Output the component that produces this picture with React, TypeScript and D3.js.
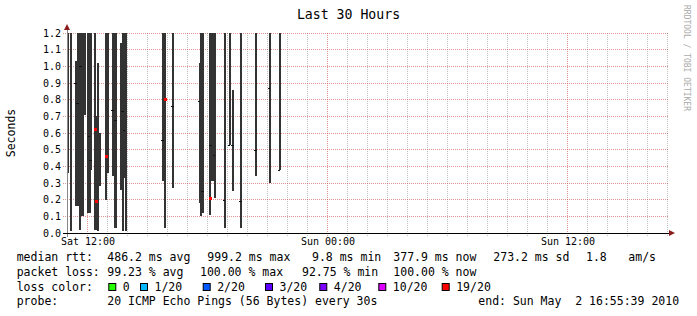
import React from "react";
import * as d3 from "d3";

// ---- data ----
const barTimes = ["11:00","11:10","11:25","11:30","11:35","11:40","11:45","11:50","12:00","12:05","12:10","12:20","12:25","12:30","12:35","12:55","13:00","13:15","13:20","13:25","13:40","13:45","13:50","13:55","15:45","15:50","16:15","17:35","17:40","17:45","18:05","18:10","18:15","18:20","18:50","19:05","19:15","19:40","20:25","21:05","21:35"];
const barHigh = [1.2,1.2,1.03,1.2,1.2,1.2,1.2,1.2,1.2,1.2,1.2,1.2,0.70,1.02,0.60,1.2,1.2,1.2,1.2,1.2,1.14,1.2,1.2,1.2,1.2,1.2,1.2,1.02,1.2,1.2,1.2,1.2,1.2,1.2,1.2,1.2,0.86,1.2,1.2,1.2,1.2];
const barLow = [0.36,0.01,0.16,0.16,0.02,0.10,0.10,0.71,0.12,0.12,0.38,0.02,0.02,0.01,0.28,0.20,0.36,0.34,0.03,0.03,0.26,0.01,0.33,0.01,0.31,0.03,0.27,0.18,0.10,0.12,0.11,0.31,0.31,0.21,0.03,0.53,0.25,0.03,0.34,0.30,0.38];
const barMedian: (number | null)[] = [null,null,0.90,0.78,null,1.0,null,null,null,0.58,0.44,0.62,0.19,null,null,0.46,null,0.74,null,0.68,null,0.73,0.62,null,0.56,0.80,0.76,0.79,null,0.25,0.21,0.53,null,0.47,0.20,0.53,0.53,0.19,0.50,0.87,0.38];
const barLoss = ["","","","","","","","","","","","19/20","19/20","","","19/20","","","","","","","","","","19/20","","","","","19/20","","","","","","","","","",""];

const yTicks = [0,0.1,0.2,0.3,0.4,0.5,0.6,0.7,0.8,0.9,1.0,1.1,1.2];
const xTickLabels = ["Sat 12:00","Sun 00:00","Sun 12:00"];

const lossLabels = ["0","1/20","2/20","3/20","4/20","10/20","19/20"];
const lossColors = ["#26ff00","#00b8ff","#0059ff","#5e00ff","#7e00ff","#dd00ff","#ff0000"];

const legendRtt = ["median rtt:","486.2 ms avg","999.2 ms max","9.8 ms min","377.9 ms now","273.2 ms sd","1.8","am/s"];
const legendLoss = ["packet loss:","99.23 % avg","100.00 % max","92.75 % min","100.00 % now"];
const legendProbe = ["probe:","20 ICMP Echo Pings (56 Bytes) every 30s","end: Sun May  2 16:55:39 2010"];

// ---- layout ----
const W = 697, H = 316;
const X0 = 67, X1 = 667, Y0 = 233, Y1 = 33;
const START = new Date(2010, 4, 1, 11, 0);
const END = new Date(2010, 4, 2, 17, 0);
const FONT = "'DejaVu Sans Mono', monospace";

const x = d3.scaleTime().domain([START, END]).range([X0, X1]);
const y = d3.scaleLinear().domain([0, 1.2]).range([Y0, Y1]);

function satTime(s: string) {
  const [h, m] = s.split(":").map(Number);
  return new Date(2010, 4, 1, h, m);
}

export default function App() {
  const hours = d3.timeHour.every(1)!.range(START, d3.timeMinute.offset(END, 1));
  const majors = d3.timeHour.every(6)!.range(START, d3.timeMinute.offset(END, 1)).filter(d => d.getHours() % 12 === 0);
  const labelDates = [new Date(2010,4,1,12), new Date(2010,4,2,0), new Date(2010,4,2,12)];

  const rttX = [16.7, 107.3, 207.3, 312, 393.3, 493.3, 586, 628.3];
  const lossX = [16.7, 107.3, 200, 302, 393.3];
  const probeX = [16.7, 107.3, 478.3];
  const boxX = [108.3, 140, 202.7, 265, 319.3, 378.3, 441.7];

  return (
    <div style={{ position: "fixed", left: 0, top: 0 }}>
      <svg width={W} height={H} style={{ display: "block", background: "#fff" }}>
        <rect width={W} height={H} fill="#fff" />
        <text x={348.5} y={18.5} textAnchor="middle" fontFamily={FONT} fontSize={13.2} fill="#000">Last 30 Hours</text>
        <text transform="translate(684,5) rotate(90)" fontFamily={FONT} fontSize={8} fill="#aaa">RRDTOOL / TOBI OETIKER</text>
        <text transform={`translate(15,${(Y0 + Y1) / 2}) rotate(-90)`} textAnchor="middle" fontFamily={FONT} fontSize={11.5} fill="#000">Seconds</text>

        {/* grid */}
        <g shapeRendering="crispEdges">
          {hours.map((d, i) => {
            const isMajor = majors.some(m => +m === +d);
            return (
              <line key={"v" + i} x1={x(d)} x2={x(d)} y1={Y1} y2={Y0 + 3}
                stroke={isMajor ? "rgba(200,60,60,0.55)" : "rgba(140,140,140,0.55)"} strokeDasharray="1,1" />
            );
          })}
          {yTicks.map((v, i) => (
            <line key={"h" + i} x1={X0 - 4} x2={X1 + 2} y1={y(v)} y2={y(v)}
              stroke="rgba(200,60,60,0.55)" strokeDasharray="1,1" />
          ))}
        </g>

        {/* bars */}
        <g shapeRendering="crispEdges">
          {barTimes.map((t, i) => {
            const d0 = satTime(t);
            const xa = x(d0);
            const xb = x(d3.timeMinute.offset(d0, 5));
            const hi = Math.min(barHigh[i], 1.2);
            return (
              <rect key={"b" + i} x={xa} width={xb - xa + 0.4} y={y(hi)} height={y(barLow[i]) - y(hi)} fill="#333" />
            );
          })}
          {barTimes.map((t, i) => {
            const m = barMedian[i];
            if (m == null) return null;
            const d0 = satTime(t);
            const xa = x(d0);
            const xb = x(d3.timeMinute.offset(d0, 5));
            if (barLoss[i] === "19/20") {
              return <rect key={"m" + i} x={xa} width={3} y={y(m) - 1.5} height={3} fill="#ff0000" />;
            }
            return <rect key={"m" + i} x={xa - 1} width={xb - xa + 1} y={y(m)} height={1} fill="#111" />;
          })}
        </g>

        {/* axes */}
        <g shapeRendering="crispEdges">
          <line x1={X0} x2={X0} y1={Y0 + 4} y2={Y1 - 4} stroke="#888" />
          <line x1={X0 - 4} x2={X1 + 3} y1={Y0} y2={Y0} stroke="#000" />
        </g>
        <path d={`M${X1 + 2},${Y0 - 3}L${X1 + 8},${Y0}L${X1 + 2},${Y0 + 3}Z`} fill="#8b1c1c" />
        <path d={`M${X0 - 3},${Y1 - 3}L${X0},${Y1 - 9}L${X0 + 3},${Y1 - 3}Z`} fill="#8b1c1c" />

        {yTicks.map((v, i) => (
          <text key={"yl" + i} x={61} y={y(v)} dy="0.36em" textAnchor="end" fontFamily={FONT} fontSize={10} fill="#000">{v.toFixed(1)}</text>
        ))}
        {labelDates.map((d, i) => (
          <text key={"xl" + i} x={x(d) + 1} y={245} textAnchor="middle" fontFamily={FONT} fontSize={10} fill="#000">{xTickLabels[i]}</text>
        ))}

        {/* legend */}
        <g fontFamily={FONT} fontSize={11.5} fill="#000">
          {legendRtt.map((s, i) => <text key={"r" + i} x={rttX[i]} y={261} style={{ whiteSpace: "pre" }}>{s}</text>)}
          {legendLoss.map((s, i) => <text key={"l" + i} x={lossX[i]} y={276} style={{ whiteSpace: "pre" }}>{s}</text>)}
          <text x={16.7} y={291}>loss color:</text>
          {lossLabels.map((s, i) => (
            <g key={"c" + i}>
              <rect x={boxX[i] + 0.5} y={283.5} width={7} height={7} fill={lossColors[i]} stroke="#000" strokeWidth={1} />
              <text x={boxX[i] + 14.5} y={291}>{s}</text>
            </g>
          ))}
          {legendProbe.map((s, i) => <text key={"p" + i} x={probeX[i]} y={305} style={{ whiteSpace: "pre" }}>{s}</text>)}
        </g>
      </svg>
    </div>
  );
}
